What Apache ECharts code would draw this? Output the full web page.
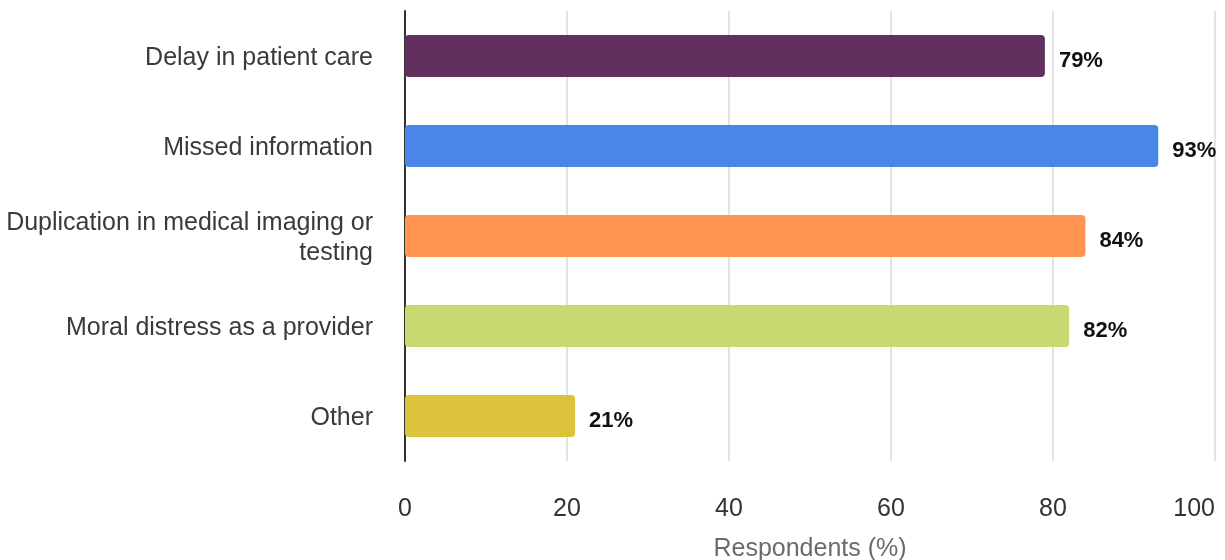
<!DOCTYPE html>
<html>
<head>
<meta charset="utf-8">
<script src="https://cdn.jsdelivr.net/npm/echarts@6/dist/echarts.min.js"></script>
<style>
  html, body { margin: 0; padding: 0; background: #fff; }
  #chart { width: 1225px; height: 560px; }
</style>
</head>
<body>
<div id="chart"></div>
<script>
// Survey: consequences reported by respondents
const categories = [
  'Delay in patient care',
  'Missed information',
  'Duplication in medical imaging or\ntesting',
  'Moral distress as a provider',
  'Other'
];
const values = [79, 93, 84, 82, 21];
const barColors = ['#61305e', '#4a86e8', '#ff9550', '#c6da70', '#dbc33c'];
const xTicks = { min: 0, max: 100, interval: 20 };
const axisTitle = 'Respondents (%)';

const FONT = '"Liberation Sans", Arial, Helvetica, sans-serif';

const chart = echarts.init(document.getElementById('chart'), null, { renderer: 'canvas' });

chart.setOption({
  animation: false,
  backgroundColor: '#ffffff',
  grid: { left: 405, right: 10, top: 11, height: 450, containLabel: false, outerBoundsMode: 'none' },
  xAxis: {
    type: 'value',
    min: xTicks.min,
    max: xTicks.max,
    interval: xTicks.interval,
    name: axisTitle,
    nameLocation: 'middle',
    nameGap: 76,
    nameTextStyle: { fontFamily: FONT, fontSize: 25, color: '#6b6b6b' },
    axisLine: { show: false },
    axisTick: { show: false },
    axisLabel: {
      fontFamily: FONT, fontSize: 25, color: '#333333', margin: 36,
      alignMaxLabel: 'right'
    },
    splitLine: { show: true, lineStyle: { color: '#e3e3e3', width: 2 } }
  },
  yAxis: {
    type: 'category',
    data: categories,
    inverse: true,
    axisLine: { show: true, lineStyle: { color: '#333333', width: 2 } },
    axisTick: { show: false },
    axisLabel: {
      margin: 32,
      align: 'right',
      // a thin spacer row nudges each label a little below the bar centre
      formatter: v => '{s| }\n' + v.split('\n').map(s => '{t|' + s + '}').join('\n'),
      rich: {
        s: { fontSize: 1, lineHeight: 4 },
        t: {
          fontFamily: FONT, fontSize: 25, color: '#3a3a3a',
          lineHeight: 30, align: 'right'
        }
      }
    }
  },
  series: [{
    type: 'bar',
    data: values.map((v, i) => ({ value: v, itemStyle: { color: barColors[i] } })),
    barWidth: 42,
    itemStyle: { borderRadius: 4 },
    label: {
      show: true,
      position: 'right',
      distance: 14,
      offset: [0, 5],
      formatter: p => p.value + '%',
      fontFamily: FONT,
      fontSize: 22,
      fontWeight: 'bold',
      color: '#111111'
    }
  }]
});
</script>
</body>
</html>
